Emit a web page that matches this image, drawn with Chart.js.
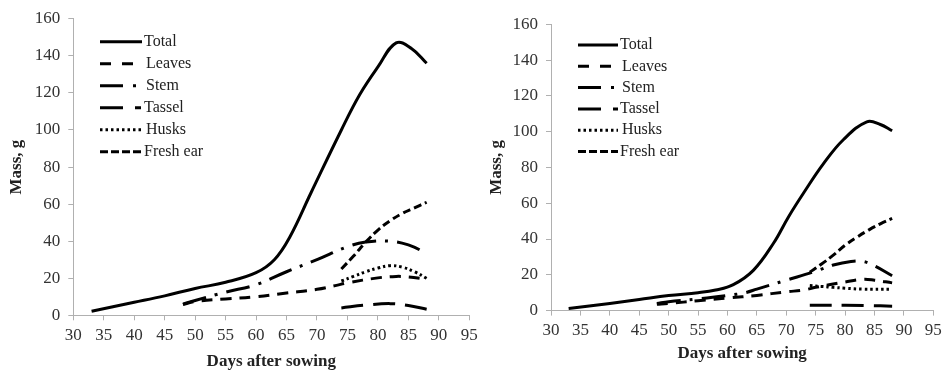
<!DOCTYPE html>
<html><head><meta charset="utf-8">
<script src="https://cdn.jsdelivr.net/npm/chart.js@4.4.1/dist/chart.umd.min.js"></script>
<style>
html,body{margin:0;padding:0;background:#fff;overflow:hidden;width:942px;height:372px;}
#c1{position:absolute;left:0;top:0;}
#c2{position:absolute;left:478px;top:0;}
</style></head><body>
<canvas id="c1" width="500" height="372"></canvas>
<canvas id="c2" width="480" height="372"></canvas>
<script>
// ---- tick labels ----
const xTickValues = [30,35,40,45,50,55,60,65,70,75,80,85,90,95];
const yTickValues = [0,20,40,60,80,100,120,140,160];
const seriesNames = ['Total','Leaves','Stem','Tassel','Husks','Fresh ear'];

// ---- left chart data ----
const totalDays1 = [33,40,45,50,55,60,63,65.5,69,74,77,80,83,85.5,88];
const total1     = [2.2,7,10.5,14.5,17.8,23,30,42,66,100,119,134,147,144,136];
const leavesDays1 = [48,50,55,60,65,70,73,75,80,83,85,88];
const leaves1     = [5.8,7.5,8.8,10,12,14,16,17.5,20.2,21,20.7,19.5];
const stemDays1 = [48,50,55,60,65,70,75,78,82,85,88];
const stem1     = [6,8,12.5,16.5,23.5,30,37,39.5,40,38,33.5];
const tasselDays1 = [74,78,82,85,88];
const tassel1     = [4,5.5,6.3,5.3,3.3];
const husksDays1 = [74,76,78,80,82,84,86,88];
const husks1     = [18.5,21,23.5,25.5,26.8,26,23.5,20];
const earDays1 = [74,76,78,80,82,84,86,88];
const ear1     = [25,32,39.5,46,51,55,58,61];

// ---- right chart data ----
const totalDays2 = [33,40,45,50,55,58,61,64.4,67.8,70.4,73,76.3,79.7,83.7,86,88];
const total2     = [1.2,4,6.2,8.4,10,11.5,14.5,22.5,37.5,52.5,66,82,95.5,105.5,104,100.5];
const leavesDays2 = [48,50,55,60,65,70,73,75,80,83,85,88];
const leaves2     = [3.5,4,5.5,7,8.5,10.5,11.5,13,16,17.5,17,15.5];
const stemDays2 = [48,50,55,60,63,65,70,75,78,81,83,85,88];
const stem2     = [4,5,6.5,8.5,10,12,17,22,25.5,27.5,27.5,25,19.5];
const tasselDays2 = [74,80,84,88];
const tassel2     = [3,3,2.8,2.5];
const husksDays2 = [74,76,78,80,83,88];
const husks2     = [14,13.5,13,12.5,12,12];
const earDays2 = [74,76,78,80,82,84,86,88];
const ear2     = [21.5,26,31,36.5,41,45,48.5,51.5];

// ---- styles ----
const styles = {
  'Total':     {dash: [],            legendDash: []},
  'Leaves':    {dash: [11,8],        legendDash: [11,11]},
  'Stem':      {dash: [24,9,3,9],    legendDash: [23,10,3,10]},
  'Tassel':    {dash: [22,10],       legendDash: [23,12,6,12]},
  'Husks':     {dash: [2.5,3],       legendDash: [2.5,3]},
  'Fresh ear': {dash: [8,4],         legendDash: [8,3]}
};

const FONT = "'Liberation Serif', 'Times New Roman', serif";
Chart.defaults.font.family = FONT;

function pts(days, vals){ return days.map((d,i)=>({x:d, y:vals[i]})); }

function makeDatasets(sets){
  return sets.map((s,i)=>{
    const st = styles[seriesNames[i]];
    return {
      label: seriesNames[i],
      data: pts(s[0], s[1]),
      borderColor: '#000',
      borderWidth: 3,
      borderDash: st.dash,
      legendDash: st.legendDash,
      pointRadius: 0,
      fill: false,
      tension: 0.4,
      borderCapStyle: 'butt'
    };
  });
}

const legendPlugin = {
  id: 'inlineLegend',
  afterDatasetsDraw(chart, args, opts){
    const ctx = chart.ctx;
    ctx.save();
    chart.data.datasets.forEach((ds,i)=>{
      const y = opts.y0 + i*opts.dy;
      ctx.beginPath();
      ctx.setLineDash(ds.legendDash || []);
      ctx.lineWidth = 3;
      ctx.lineCap = 'butt';
      ctx.strokeStyle = '#000';
      ctx.moveTo(opts.x0, y); ctx.lineTo(opts.x1, y);
      ctx.stroke();
      ctx.setLineDash([]);
      ctx.fillStyle = '#222';
      ctx.font = "16px " + FONT;
      ctx.textBaseline = 'middle';
      ctx.textAlign = 'left';
      const off = (ds.label==='Leaves'||ds.label==='Stem'||ds.label==='Husks') ? 2 : 0;
      ctx.fillText(ds.label, opts.tx + off, y);
    });
    ctx.restore();
  }
};

function makeChart(id, sets, geo){
  return new Chart(document.getElementById(id), {
    type: 'line',
    data: { datasets: makeDatasets(sets) },
    plugins: [legendPlugin],
    options: {
      responsive: false,
      animation: false,
      devicePixelRatio: 1,
      events: [],
      layout: { padding: { left: 0, top: geo.top, right: geo.right, bottom: 0 } },
      plugins: {
        legend: { display: false },
        tooltip: { enabled: false },
        inlineLegend: geo.legend
      },
      scales: {
        x: {
          type: 'linear', min: 30, max: 95,
          afterBuildTicks: s => { s.ticks = xTickValues.map(v=>({value:v})); },
          afterFit: s => { s.height = geo.xh; },
          ticks: { color: '#333', font: { size: 17, family: FONT }, padding: 5, maxRotation: 0, autoSkip: false },
          grid: { drawOnChartArea: false, drawTicks: true, tickLength: 5, color: '#b0b0b0' },
          border: { color: '#b0b0b0', width: 1 },
          title: { display: true, text: 'Days after sowing', color: '#222',
                   font: { size: 17, weight: 'bold', family: FONT }, padding: { top: 0, bottom: geo.xtb } }
        },
        y: {
          type: 'linear', min: 0, max: 160,
          afterBuildTicks: s => { s.ticks = yTickValues.map(v=>({value:v})); },
          afterFit: s => { s.width = geo.yw; },
          ticks: { color: '#333', font: { size: 17, family: FONT }, padding: 8, autoSkip: false },
          grid: { drawOnChartArea: false, drawTicks: true, tickLength: 5, color: '#b0b0b0' },
          border: { color: '#b0b0b0', width: 1 },
          title: { display: true, text: 'Mass, g', color: '#222',
                   font: { size: 17, weight: 'bold', family: FONT }, padding: { top: geo.ytp, bottom: 0 } }
        }
      }
    }
  });
}

makeChart('c1', [
  [totalDays1,total1],[leavesDays1,leaves1],[stemDays1,stem1],
  [tasselDays1,tassel1],[husksDays1,husks1],[earDays1,ear1]
], { top: 18.8, right: 30.7, xh: 56.7, yw: 73.3, xtb: 0, ytp: 6,
     legend: { x0: 100, x1: 142, tx: 144, y0: 41.7, dy: 22 } });

makeChart('c2', [
  [totalDays2,total2],[leavesDays2,leaves2],[stemDays2,stem2],
  [tasselDays2,tassel2],[husksDays2,husks2],[earDays2,ear2]
], { top: 24.3, right: 24.7, xh: 61.4, yw: 73, xtb: 8, ytp: 8,
     legend: { x0: 100, x1: 140, tx: 142, y0: 45, dy: 21.3 } });
</script>
</body></html>
